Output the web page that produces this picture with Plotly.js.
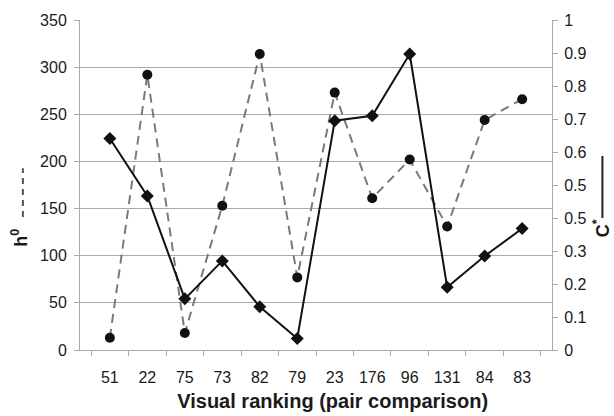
<!DOCTYPE html>
<html>
<head>
<meta charset="utf-8">
<script src="https://cdn.plot.ly/plotly-3.0.1.min.js"></script>
<style>html,body{margin:0;padding:0;background:#fff}#chart{width:614px;height:416px}</style>
</head>
<body>
<div id="chart"></div>
<script>
// Categories (visual ranking, pair comparison)
const categories = ["51", "22", "75", "73", "82", "79", "23", "176", "96", "131", "84", "83"];
// h0 series (left axis, dashed grey with circles)
const h0Values = [13, 292, 18, 153, 314, 77, 273, 161, 202, 131, 244, 266];
// C* series (right axis, solid black with diamonds)
const cStarValues = [0.641, 0.467, 0.155, 0.270, 0.131, 0.035, 0.695, 0.710, 0.897, 0.190, 0.285, 0.368];
// Left axis ticks
const leftTicks = [0, 50, 100, 150, 200, 250, 300, 350];
// Right axis ticks and their printed labels (the original prints 0.5 twice)
const rightTickVals = [0, 0.1, 0.2, 0.3, 0.4, 0.5, 0.6, 0.7, 0.8, 0.9, 1];
const rightTickText = ["0", "0.1", "0.2", "0.3", "0.5", "0.5", "0.6", "0.7", "0.8", "0.9", "1"];

const font = "Liberation Sans, Arial, sans-serif";
const textColor = "#1a1a1a";

const traces = [
  {
    x: categories, y: h0Values, name: "h0", type: "scatter", mode: "lines+markers",
    line: {color: "#7a7a7a", width: 2, dash: "9px,6px"},
    marker: {symbol: "circle", size: 10, color: "#111"},
    yaxis: "y"
  },
  {
    x: categories, y: cStarValues, name: "C*", type: "scatter", mode: "lines+markers",
    line: {color: "#111", width: 2},
    marker: {symbol: "diamond", size: 10, color: "#111"},
    yaxis: "y2"
  }
];

const layout = {
  width: 614, height: 416,
  margin: {l: 80, r: 62, t: 20, b: 66, pad: 0},
  paper_bgcolor: "#fff", plot_bgcolor: "#fff",
  showlegend: false,
  font: {family: font, size: 16, color: textColor},
  xaxis: {
    type: "category",
    tickson: "boundaries",
    ticks: "outside", ticklen: 5, tickcolor: "#aaa", tickwidth: 1,
    showline: true, linecolor: "#aaa", linewidth: 1,
    showgrid: false, zeroline: false,
    ticklabelstandoff: 13,
    tickfont: {family: font, size: 16, color: textColor},
    title: {text: "<b>&nbsp;&nbsp;&nbsp;&nbsp;&nbsp;&nbsp;Visual ranking (pair comparison)</b>", standoff: 8,
            font: {family: font, size: 20, color: textColor}}
  },
  yaxis: {
    range: [0, 350], tickvals: leftTicks,
    ticks: "outside", ticklen: 5, tickcolor: "#aaa",
    showline: true, linecolor: "#aaa", linewidth: 1,
    showgrid: true, gridcolor: "#aaa", gridwidth: 1,
    zeroline: false,
    ticklabelstandoff: 4,
    tickfont: {family: font, size: 16, color: textColor}
  },
  yaxis2: {
    overlaying: "y", side: "right",
    range: [0, 1], tickvals: rightTickVals, ticktext: rightTickText,
    ticks: "outside", ticklen: 5, tickcolor: "#aaa",
    showline: true, linecolor: "#aaa", linewidth: 1,
    showgrid: false, zeroline: false,
    ticklabelstandoff: 3,
    tickfont: {family: font, size: 16, color: textColor}
  },
  annotations: [
    {text: "<b>h<sup>0</sup></b>", xref: "paper", yref: "paper", x: -0.127, y: 0.34,
     xanchor: "center", yanchor: "middle",
     textangle: -90, showarrow: false, font: {family: font, size: 18, color: textColor}},
    {text: "<b>C<sup>*</sup></b>", xref: "paper", yref: "paper", x: 1.1068, y: 0.37,
     xanchor: "center", yanchor: "middle",
     textangle: -90, showarrow: false, font: {family: font, size: 18, color: textColor}}
  ],
  shapes: [
    {type: "line", xref: "paper", yref: "paper", x0: -0.121, x1: -0.121, y0: 0.403, y1: 0.551,
     line: {color: "#555", width: 2, dash: "6px,5px"}},
    {type: "line", xref: "paper", yref: "paper", x0: 1.1068, x1: 1.1068, y0: 0.40, y1: 0.588,
     line: {color: "#222", width: 2}}
  ]
};

Plotly.newPlot("chart", traces, layout, {displayModeBar: false, staticPlot: true});
</script>
</body>
</html>
